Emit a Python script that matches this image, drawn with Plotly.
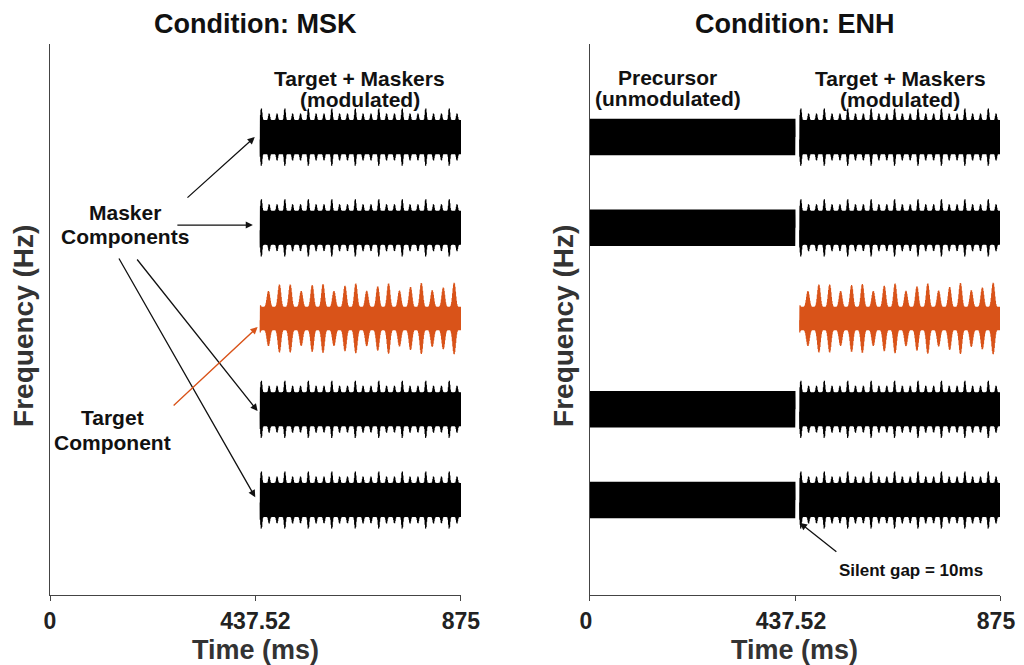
import numpy as np
import plotly.graph_objects as go

# ---------------- data ----------------
conditions = ["MSK", "ENH"]
row_names = ["Masker 1", "Masker 2", "Target", "Masker 3", "Masker 4"]
row_freq = [1, 2, 3, 4, 5]                     # schematic frequency rows (bottom -> top)
row_is_target = [False, False, True, False, False]
row_colors = ["#000000", "#000000", "#D95319", "#000000", "#000000"]

tick_vals = [0, 437.52, 875]
tick_text = ["0", "437.52", "875"]

precursor_on, precursor_off = 0.0, 437.52      # ms
gap_ms = 10.0
target_on, target_off = 447.52, 875.0          # ms
precursor_rows_enh = [1, 2, 4, 5]              # precursor only on masker rows

# stimulus parameters (sampled waveform drawn as a dense line)
fs_hz = 8000.0
carrier_hz = 1000.0
precursor_amp = 0.2
masker_env = dict(base=0.19, peak=0.13, fm=60.0, sharp=8, fm2=20.0, depth2=0.6)
target_env = dict(base=0.13, peak=0.27, fm=43.0, sharp=3, fm2=14.0, depth2=0.35)


def modulated(t_on, t_off, p):
    t = np.arange(t_on, t_off, 1000.0 / fs_hz)
    ts = t / 1000.0
    env1 = ((1 + np.cos(2 * np.pi * p["fm"] * ts)) / 2) ** p["sharp"]
    env2 = 1 - p["depth2"] + p["depth2"] * (1 + np.cos(2 * np.pi * p["fm2"] * ts)) / 2
    env = p["base"] + p["peak"] * env1 * env2
    return t, env * np.sin(2 * np.pi * carrier_hz * ts)


def unmodulated(t_on, t_off, amp):
    t = np.arange(t_on, t_off, 1000.0 / fs_hz)
    return t, amp * np.sin(2 * np.pi * carrier_hz * t / 1000.0)


fig = go.Figure()
axes = [("x", "y"), ("x2", "y2")]

for ci, cond in enumerate(conditions):
    xa, ya = axes[ci]
    if cond == "ENH":
        for r in precursor_rows_enh:
            t, s = unmodulated(precursor_on, precursor_off, precursor_amp)
            fig.add_trace(go.Scatter(x=t, y=s + r, mode="lines",
                                     line=dict(color="#000000", width=1.2, simplify=False),
                                     xaxis=xa, yaxis=ya, showlegend=False, hoverinfo="skip"))
    for name, r, is_t, col in zip(row_names, row_freq, row_is_target, row_colors):
        t, s = modulated(target_on, target_off, target_env if is_t else masker_env)
        fig.add_trace(go.Scatter(x=t, y=s + r, mode="lines", name=name,
                                 line=dict(color=col, width=1.2, simplify=False),
                                 xaxis=xa, yaxis=ya, showlegend=False, hoverinfo="skip"))

FONT = "Liberation Sans, Arial, sans-serif"
axis_common = dict(range=[0, 875], tickvals=tick_vals, ticktext=tick_text,
                   ticks="outside", ticklen=5, tickcolor="#444", tickwidth=1,
                   showline=True, linecolor="#444", linewidth=1.2,
                   showgrid=False, zeroline=False, automargin=False,
                   tickfont=dict(family=FONT, size=23, color="#222", weight="bold"))
yaxis_common = dict(range=[-0.047, 6.025], showline=True, linecolor="#444", linewidth=1.2,
                    showgrid=False, zeroline=False, showticklabels=False, ticks="",
                    automargin=False)

# page body has an 8px margin: size the figure so the plot lands where the reference has it
fig.update_layout(
    template="none",
    width=1016, height=657,
    margin=dict(l=42, r=24, t=36, b=70, autoexpand=False),
    paper_bgcolor="white", plot_bgcolor="white",
    font=dict(family=FONT, color="#111"),
    xaxis=dict(domain=[0, 0.4326], anchor="y", **axis_common),
    yaxis=dict(domain=[0, 1], anchor="x", **yaxis_common),
    xaxis2=dict(domain=[0.5684, 1], anchor="y2", ticklabelshift=-4, **axis_common),
    yaxis2=dict(domain=[0, 1], anchor="x2", **yaxis_common),
)

ann = []
for ci, cond in enumerate(conditions):
    xr = "x" if ci == 0 else "x2"
    ann.append(dict(text=f"<b>Condition: {cond}</b>", x=437.5, xref=xr,
                    y=(595 - 24) / 551.0, yref="paper", yanchor="middle",
                    showarrow=False, font=dict(size=27, family=FONT, color="#111")))
    ann.append(dict(text="<b>Time (ms)</b>", x=437.5, xref=xr, y=-0.0998,
                    yref="paper", showarrow=False, yanchor="middle",
                    font=dict(size=27, family=FONT, color="#333")))
    ann.append(dict(text="<b>Frequency (Hz)</b>", x=-0.066, xref=f"{xr} domain",
                    y=(595 - 326) / 551.0, yref="paper", textangle=-90, showarrow=False,
                    xanchor="center", yanchor="middle",
                    font=dict(size=28, family=FONT, color="#333")))

lab = dict(size=21, family=FONT, color="#111")
# (text, x, y, axis)
labels = [
    ("Target + Maskers", 660, 5.650, ""),
    ("(modulated)", 660, 5.408, ""),
    ("Precursor", 166, 5.661, "2"),
    ("(unmodulated)", 166, 5.419, "2"),
    ("Target + Maskers", 662, 5.650, "2"),
    ("(modulated)", 662, 5.408, "2"),
    ("Masker", 160, 4.163, ""),
    ("Components", 160, 3.909, ""),
    ("Target", 132, 1.904, ""),
    ("Component", 132, 1.639, ""),
]
for txt, x, y, a in labels:
    ann.append(dict(text=f"<b>{txt}</b>", x=x, y=y, xref=f"x{a}", yref=f"y{a}",
                    showarrow=False, font=lab, yanchor="middle"))
ann.append(dict(text="<b>Silent gap = 10ms</b>", x=685, y=0.218, xref="x2", yref="y2",
                showarrow=False, font=dict(size=17, family=FONT, color="#111")))

# arrows: (tail_x, tail_y, tip_x, tip_y, axis, color)
arrows = [
    (289.5, 4.317, 436.0, 5.0, "", "#111"),
    (268.0, 4.030, 432.0, 4.030, "", "#111"),
    (183.0, 3.667, 442.0, 1.98, "", "#111"),
    (145.0, 3.678, 437.0, 1.03, "", "#111"),
    (260.0, 2.025, 442.0, 2.906, "", "#D95319"),
    (529.0, 0.416, 448.0, 0.747, "2", "#111"),
]
for tx, ty, hx, hy, ax_id, col in arrows:
    ann.append(dict(text="", x=hx, y=hy, ax=tx, ay=ty,
                    xref=f"x{ax_id}", yref=f"y{ax_id}", axref=f"x{ax_id}", ayref=f"y{ax_id}",
                    showarrow=True, arrowhead=2, arrowsize=1.1, arrowwidth=1.3,
                    arrowcolor=col, standoff=0))

fig.update_layout(annotations=ann)
fig.write_html("out.html")
